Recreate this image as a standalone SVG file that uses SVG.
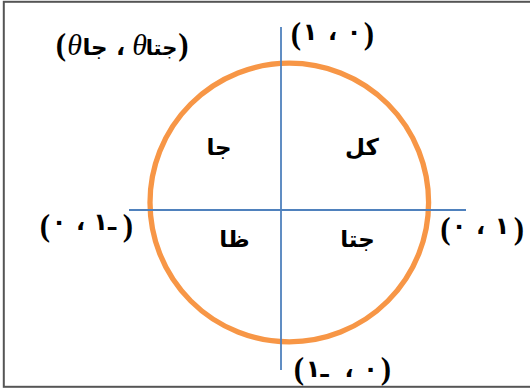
<svg xmlns="http://www.w3.org/2000/svg" width="530" height="388" viewBox="0 0 530 388">
<style>
.t{font-family:"DejaVu Sans",serif;font-weight:bold;font-size:23px;fill:#000;text-anchor:middle}
.p{font-family:"Liberation Serif","DejaVu Serif",serif;font-weight:bold;font-size:31px;fill:#000;text-anchor:middle}
.d{font-family:"DejaVu Sans",serif;font-weight:bold;font-size:24px;fill:#000;text-anchor:middle;unicode-bidi:bidi-override;direction:ltr}
.th{font-family:"Liberation Serif","DejaVu Serif",serif;font-style:italic;font-size:30px;fill:#000;text-anchor:middle}
.ax{stroke:#4F81BD;stroke-width:1.8;fill:none}
</style>
<rect x="3.8" y="1.8" width="600" height="385" fill="#fff" stroke="#555" stroke-width="2"/>
<g id="circle"><circle cx="289.3" cy="202.5" r="139.3" fill="none" stroke="#F79646" stroke-width="5.3"/></g>
<g id="connectors">
<line class="ax" x1="281" y1="27" x2="281" y2="370"/>
<line class="ax" x1="129" y1="210" x2="466" y2="210"/>
</g>
<g id="label-point">
<text class="p" x="61" y="55">(</text>
<text class="th" x="74.5" y="55">θ</text>
<text class="t" x="95" y="55">جا</text>
<text class="d" x="120.5" y="55">،</text>
<text class="th" x="139.5" y="55">θ</text>
<text class="t" x="161.5" y="55" style="font-size:21px">جتا</text>
<text class="p" x="183.5" y="55">)</text>
</g>
<g id="label-top">
<text class="p" x="296" y="43.5">(</text>
<text class="d" x="310" y="40">١</text>
<text class="d" x="332.5" y="40">،</text>
<text class="d" x="354" y="40">٠</text>
<text class="p" x="369" y="43.5">)</text>
</g>
<g id="label-left">
<text class="p" x="45" y="235.5">(</text>
<text class="d" x="59" y="230">٠</text>
<text class="d" x="80.5" y="230">،</text>
<text class="d" x="100.5" y="230">١</text>
<text class="d" x="112" y="230">ـ</text>
<text class="p" x="128" y="235.5">)</text>
</g>
<g id="label-right">
<text class="p" x="445.5" y="238.5">(</text>
<text class="d" x="459" y="234">٠</text>
<text class="d" x="480.5" y="234">،</text>
<text class="d" x="502" y="234">١</text>
<text class="p" x="519" y="238.5">)</text>
</g>
<g id="label-bottom">
<text class="p" x="299" y="378.5">(</text>
<text class="d" x="313" y="377">١</text>
<text class="d" x="324.5" y="377">ـ</text>
<text class="d" x="349" y="377">،</text>
<text class="d" x="370.5" y="377">٠</text>
<text class="p" x="386" y="378.5">)</text>
</g>
<g id="q1"><text class="t" x="362" y="155">كل</text></g>
<g id="q2"><text class="t" x="219" y="155">جا</text></g>
<g id="q3"><text class="t" x="234.5" y="247">ظا</text></g>
<g id="q4"><text class="t" x="357.5" y="247">جتا</text></g>
</svg>
